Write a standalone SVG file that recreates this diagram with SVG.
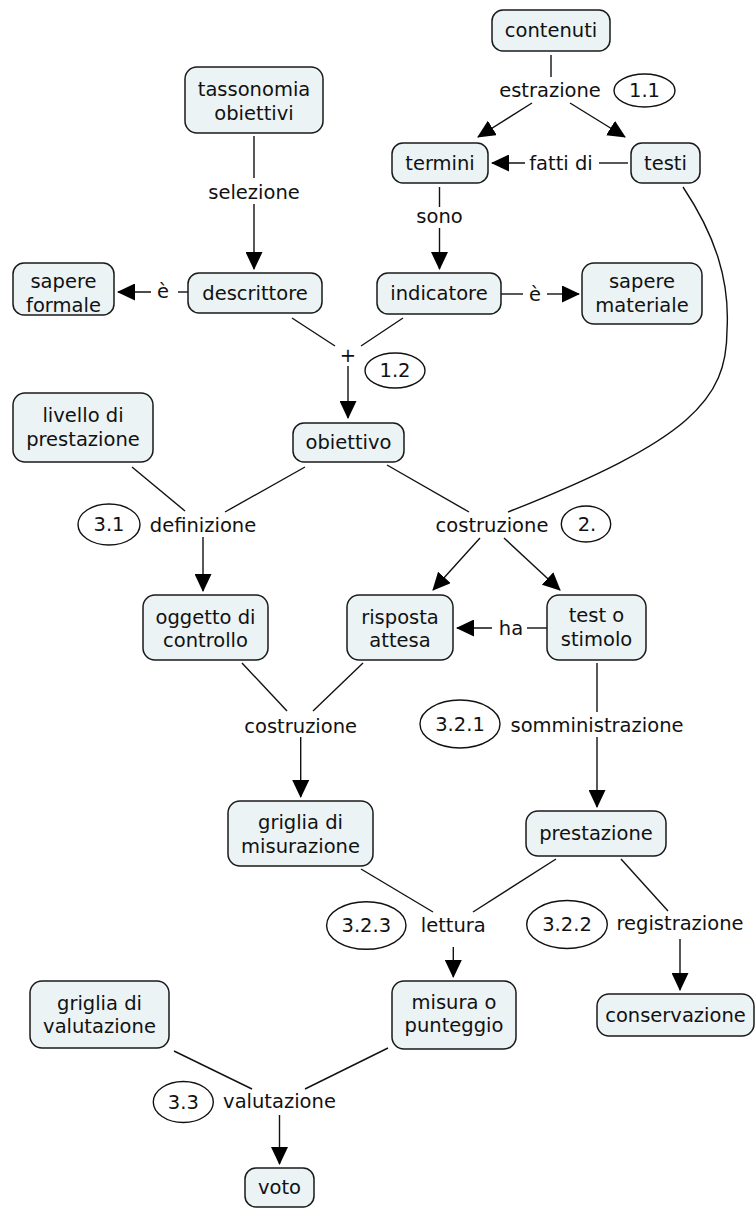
<svg xmlns="http://www.w3.org/2000/svg" width="756" height="1208" viewBox="0 0 756 1208">
<style>
  .node rect { fill: #ebf3f5; stroke: #1a1a1a; stroke-width: 1.5; }
  text { font-family: "DejaVu Sans", Verdana, sans-serif; font-size: 19.5px; fill: #111; text-anchor: middle; }
  .conn line, .conn path { stroke: #111; stroke-width: 1.4; fill: none; }
  .arr { marker-end: url(#ah); }
  .tag ellipse { fill: #fff; stroke: #111; stroke-width: 1.4; }
</style>
<defs>
  <marker id="ah" markerUnits="userSpaceOnUse" markerWidth="18" markerHeight="17" refX="17" refY="8.5" orient="auto">
    <path d="M0,0 L18,8.5 L0,17 Z" fill="#000"/>
  </marker>
</defs>
<rect width="756" height="1208" fill="#fff"/>

<g class="conn" id="connectors">
  <line x1="551" y1="55" x2="551" y2="77"/>
  <line class="arr" x1="532" y1="103" x2="478" y2="137"/>
  <line class="arr" x1="570" y1="103" x2="625" y2="137"/>
  <line x1="628" y1="163" x2="599" y2="163"/>
  <line class="arr" x1="525" y1="163" x2="492" y2="163"/>
  <line x1="254" y1="136" x2="254" y2="178"/>
  <line class="arr" x1="254" y1="204" x2="254" y2="269"/>
  <line x1="439.5" y1="187" x2="439.5" y2="207"/>
  <line class="arr" x1="439.5" y1="228" x2="439.5" y2="269"/>
  <line x1="188" y1="292" x2="178" y2="292"/>
  <line class="arr" x1="151" y1="292" x2="118" y2="292"/>
  <line x1="501" y1="294" x2="523" y2="294"/>
  <line class="arr" x1="547" y1="294" x2="579" y2="294"/>
  <line x1="292" y1="318" x2="335" y2="346"/>
  <line x1="403" y1="318" x2="361" y2="346"/>
  <line class="arr" x1="348" y1="366" x2="348" y2="418"/>
  <line x1="132" y1="467" x2="185" y2="511"/>
  <line x1="305" y1="467" x2="225" y2="512"/>
  <line class="arr" x1="203" y1="537" x2="203" y2="591"/>
  <line x1="387" y1="465" x2="469" y2="512"/>
  <path d="M683,187 C715,235 730,280 727,330 C727,400 690,440 508,512"/>
  <line class="arr" x1="480" y1="538" x2="433" y2="590"/>
  <line class="arr" x1="504" y1="538" x2="560" y2="590"/>
  <line x1="547" y1="628" x2="527" y2="628"/>
  <line class="arr" x1="492" y1="628" x2="457" y2="628"/>
  <line x1="242" y1="663" x2="287" y2="711"/>
  <line x1="363" y1="663" x2="313" y2="711"/>
  <line class="arr" x1="300.7" y1="737" x2="300.7" y2="797"/>
  <line x1="597" y1="663" x2="597" y2="712"/>
  <line class="arr" x1="597" y1="737" x2="597" y2="807"/>
  <line x1="361" y1="869" x2="433" y2="912"/>
  <line x1="556" y1="859" x2="473" y2="912"/>
  <line x1="621" y1="859" x2="668" y2="911"/>
  <line class="arr" x1="453.3" y1="947" x2="453.3" y2="977"/>
  <line class="arr" x1="680" y1="939" x2="680" y2="990"/>
  <line x1="174" y1="1051" x2="252" y2="1089"/>
  <line x1="388" y1="1048" x2="305" y2="1089"/>
  <line class="arr" x1="279.5" y1="1115" x2="279.5" y2="1164"/>
</g>

<g id="labels">
  <text x="550" y="96.5">estrazione</text>
  <text x="561" y="169.5">fatti di</text>
  <text x="254" y="198.5">selezione</text>
  <text x="439.5" y="223">sono</text>
  <text x="163" y="298">è</text>
  <text x="535" y="300.5">è</text>
  <text x="348" y="361.5">+</text>
  <text x="203" y="531.5">definizione</text>
  <text x="492" y="532">costruzione</text>
  <text x="511" y="634.5">ha</text>
  <text x="300.7" y="732.5">costruzione</text>
  <text x="597" y="731.5">somministrazione</text>
  <text x="453.3" y="931.5">lettura</text>
  <text x="680" y="929.8">registrazione</text>
  <text x="279.5" y="1108">valutazione</text>
</g>

<g id="tags" class="tag">
  <g id="tag-1-1"><ellipse cx="644.5" cy="90.5" rx="30.5" ry="16.5"/><text x="644.5" y="97">1.1</text></g>
  <g id="tag-1-2"><ellipse cx="395" cy="370.5" rx="30" ry="17.5"/><text x="395" y="377">1.2</text></g>
  <g id="tag-3-1"><ellipse cx="109" cy="524.5" rx="31" ry="20.5"/><text x="109" y="531">3.1</text></g>
  <g id="tag-2"><ellipse cx="586" cy="524" rx="24.7" ry="18"/><text x="587" y="530.5">2.</text></g>
  <g id="tag-3-2-1"><ellipse cx="460" cy="724" rx="40" ry="24"/><text x="460" y="730.5">3.2.1</text></g>
  <g id="tag-3-2-3"><ellipse cx="366.3" cy="925.5" rx="39.7" ry="23.8"/><text x="366.3" y="932">3.2.3</text></g>
  <g id="tag-3-2-2"><ellipse cx="567" cy="924.5" rx="40.3" ry="24"/><text x="567" y="931">3.2.2</text></g>
  <g id="tag-3-3"><ellipse cx="183.3" cy="1102" rx="30" ry="20.5"/><text x="183.3" y="1108.5">3.3</text></g>
</g>

<g id="n-contenuti" class="node"><rect x="492" y="10" width="118" height="41" rx="11"/><text x="551" y="36.5">contenuti</text></g>
<g id="n-tassonomia" class="node"><rect x="185" y="67" width="138" height="66" rx="12"/><text x="254" y="95.5">tassonomia</text><text x="254" y="119.5">obiettivi</text></g>
<g id="n-termini" class="node"><rect x="392" y="143" width="96" height="40" rx="11"/><text x="440" y="169.5">termini</text></g>
<g id="n-testi" class="node"><rect x="631" y="143" width="69" height="40" rx="11"/><text x="665.5" y="169.5">testi</text></g>
<g id="n-sapere-formale" class="node"><rect x="13" y="263" width="101" height="52" rx="11"/><text x="63.5" y="288">sapere</text><text x="63.5" y="311.5">formale</text></g>
<g id="n-descrittore" class="node"><rect x="188" y="273" width="134" height="40" rx="11"/><text x="255" y="299.5">descrittore</text></g>
<g id="n-indicatore" class="node"><rect x="377" y="273" width="124" height="41" rx="11"/><text x="439" y="300">indicatore</text></g>
<g id="n-sapere-materiale" class="node"><rect x="582" y="263" width="120" height="61" rx="12"/><text x="642" y="287.5">sapere</text><text x="642" y="311.5">materiale</text></g>
<g id="n-livello" class="node"><rect x="13" y="393" width="140" height="69" rx="12"/><text x="83" y="421.5">livello di</text><text x="83" y="445.5">prestazione</text></g>
<g id="n-obiettivo" class="node"><rect x="293" y="423" width="111" height="39" rx="11"/><text x="348.5" y="449">obiettivo</text></g>
<g id="n-oggetto" class="node"><rect x="143" y="595" width="125" height="65" rx="12"/><text x="205.5" y="623.5">oggetto di</text><text x="205.5" y="646.5">controllo</text></g>
<g id="n-risposta" class="node"><rect x="347" y="595" width="106" height="65" rx="12"/><text x="400" y="623.5">risposta</text><text x="400" y="646.5">attesa</text></g>
<g id="n-test" class="node"><rect x="547" y="595" width="99" height="65" rx="12"/><text x="596.5" y="621.5">test o</text><text x="596.5" y="645.5">stimolo</text></g>
<g id="n-griglia-mis" class="node"><rect x="228" y="801" width="145" height="65" rx="12"/><text x="300.5" y="829">griglia di</text><text x="300.5" y="852.5">misurazione</text></g>
<g id="n-prestazione" class="node"><rect x="526" y="811" width="140" height="45" rx="12"/><text x="596" y="840">prestazione</text></g>
<g id="n-misura" class="node"><rect x="392" y="981" width="124" height="68" rx="12"/><text x="454" y="1009">misura o</text><text x="454" y="1031.5">punteggio</text></g>
<g id="n-conservazione" class="node"><rect x="597" y="994" width="157" height="42" rx="12"/><text x="675.5" y="1021.5">conservazione</text></g>
<g id="n-griglia-val" class="node"><rect x="30" y="981" width="139" height="67" rx="12"/><text x="99.5" y="1009.5">griglia di</text><text x="99.5" y="1033">valutazione</text></g>
<g id="n-voto" class="node"><rect x="245" y="1168" width="69" height="39" rx="11"/><text x="279.5" y="1194">voto</text></g>
</svg>
